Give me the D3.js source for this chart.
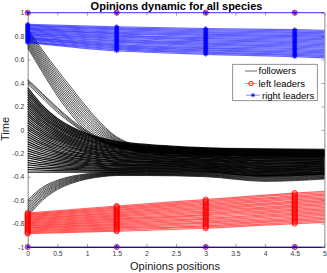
<!DOCTYPE html>
<html><head><meta charset="utf-8">
<script src="https://cdn.jsdelivr.net/npm/d3@7"></script>
<style>html,body{margin:0;padding:0;background:#fff;}svg{display:block;font-family:"Liberation Sans",Arial,sans-serif;}</style>
</head><body>
<svg id="chart" width="327" height="273"></svg>
<script>
// ---------- data ----------
const xTicks = [0, 0.5, 1, 1.5, 2, 2.5, 3, 3.5, 4, 4.5, 5];
const xTickLabels = ["0","0.5","1","1.5","2","2.5","3","3.5","4","4.5","5"];
const yTicks = [-1, -0.8, -0.6, -0.4, -0.2, 0, 0.2, 0.4, 0.6, 0.8, 1];
const yTickLabels = ["-1","-0.8","-0.6","-0.4","-0.2","0","0.2","0.4","0.6","0.8","1"];

// followers: positions sampled at followerX
const followerX = [0, 0.25, 0.5, 0.75, 1, 1.25, 1.5, 2, 3, 4, 5];
const followersUpper = [
 [0.700,0.490,0.290,0.120,-0.020,-0.100,-0.150,-0.190,-0.210,-0.220,-0.220],
 [0.715,0.507,0.310,0.141,-0.001,-0.086,-0.142,-0.185,-0.205,-0.215,-0.215],
 [0.729,0.525,0.330,0.162,0.018,-0.073,-0.134,-0.181,-0.200,-0.209,-0.210],
 [0.744,0.542,0.350,0.183,0.037,-0.059,-0.125,-0.176,-0.195,-0.204,-0.205],
 [0.758,0.559,0.370,0.204,0.056,-0.045,-0.117,-0.172,-0.190,-0.198,-0.200],
 [0.773,0.576,0.390,0.225,0.076,-0.032,-0.109,-0.167,-0.185,-0.193,-0.195],
 [0.787,0.594,0.410,0.245,0.094,-0.018,-0.101,-0.163,-0.180,-0.187,-0.190],
 [0.802,0.611,0.430,0.266,0.114,-0.005,-0.093,-0.158,-0.175,-0.182,-0.185],
 [0.816,0.628,0.450,0.287,0.133,0.009,-0.085,-0.154,-0.170,-0.176,-0.180],
 [0.831,0.645,0.470,0.308,0.152,0.023,-0.076,-0.149,-0.165,-0.171,-0.175],
 [0.845,0.663,0.490,0.329,0.171,0.036,-0.068,-0.145,-0.160,-0.165,-0.170],
 [0.860,0.680,0.510,0.350,0.190,0.050,-0.060,-0.140,-0.155,-0.160,-0.165]
];
const followersMiddle = [
 [0.430,0.310,0.190,0.080,-0.010,-0.080,-0.130,-0.180,-0.200,-0.210,-0.210],
 [0.420,0.300,0.180,0.070,-0.020,-0.090,-0.135,-0.185,-0.205,-0.215,-0.215],
 [0.405,0.285,0.165,0.060,-0.030,-0.095,-0.140,-0.190,-0.210,-0.220,-0.220],
 [0.390,0.270,0.150,0.050,-0.035,-0.100,-0.145,-0.195,-0.215,-0.225,-0.225]
];
const followersMain = [
 [0.36,0.206,0.097,0.021,-0.033,-0.071,-0.098,-0.124,-0.154,-0.168,-0.173],
 [0.34,0.190,0.084,0.010,-0.043,-0.080,-0.106,-0.131,-0.160,-0.175,-0.178],
 [0.32,0.175,0.072,0.000,-0.051,-0.087,-0.113,-0.137,-0.166,-0.181,-0.184],
 [0.30,0.159,0.059,-0.011,-0.061,-0.096,-0.121,-0.144,-0.172,-0.187,-0.190],
 [0.28,0.143,0.047,-0.022,-0.069,-0.103,-0.127,-0.150,-0.177,-0.194,-0.196],
 [0.26,0.127,0.034,-0.032,-0.079,-0.112,-0.135,-0.157,-0.183,-0.200,-0.201],
 [0.24,0.112,0.021,-0.043,-0.088,-0.119,-0.142,-0.162,-0.188,-0.206,-0.207],
 [0.22,0.096,0.008,-0.054,-0.097,-0.128,-0.150,-0.169,-0.195,-0.213,-0.213],
 [0.20,0.080,-0.005,-0.065,-0.106,-0.136,-0.157,-0.176,-0.201,-0.219,-0.219],
 [0.18,0.064,-0.017,-0.075,-0.115,-0.144,-0.164,-0.182,-0.206,-0.225,-0.224],
 [0.16,0.048,-0.030,-0.086,-0.125,-0.152,-0.172,-0.189,-0.212,-0.231,-0.230],
 [0.14,0.033,-0.043,-0.096,-0.133,-0.160,-0.179,-0.195,-0.218,-0.238,-0.236],
 [0.12,0.017,-0.056,-0.107,-0.143,-0.168,-0.186,-0.202,-0.224,-0.244,-0.242],
 [0.10,0.001,-0.068,-0.117,-0.152,-0.176,-0.193,-0.208,-0.229,-0.250,-0.247],
 [0.08,-0.014,-0.081,-0.128,-0.161,-0.184,-0.201,-0.214,-0.235,-0.257,-0.253],
 [0.06,-0.030,-0.093,-0.138,-0.170,-0.192,-0.208,-0.220,-0.240,-0.263,-0.259],
 [0.04,-0.046,-0.106,-0.149,-0.179,-0.200,-0.215,-0.227,-0.247,-0.269,-0.265],
 [0.02,-0.061,-0.119,-0.159,-0.188,-0.208,-0.222,-0.233,-0.252,-0.276,-0.270],
 [0.00,-0.077,-0.132,-0.170,-0.197,-0.216,-0.230,-0.240,-0.258,-0.282,-0.276],
 [-0.02,-0.093,-0.144,-0.181,-0.206,-0.224,-0.237,-0.246,-0.263,-0.288,-0.282],
 [-0.04,-0.109,-0.157,-0.191,-0.215,-0.232,-0.245,-0.253,-0.270,-0.294,-0.287],
 [-0.06,-0.124,-0.170,-0.202,-0.224,-0.240,-0.251,-0.259,-0.275,-0.301,-0.293],
 [-0.08,-0.140,-0.183,-0.213,-0.234,-0.249,-0.259,-0.266,-0.281,-0.307,-0.299],
 [-0.10,-0.156,-0.195,-0.223,-0.242,-0.256,-0.266,-0.271,-0.286,-0.313,-0.305],
 [-0.12,-0.172,-0.208,-0.234,-0.252,-0.265,-0.274,-0.278,-0.292,-0.320,-0.310],
 [-0.14,-0.187,-0.220,-0.244,-0.260,-0.272,-0.280,-0.284,-0.298,-0.326,-0.316],
 [-0.16,-0.203,-0.233,-0.255,-0.270,-0.281,-0.288,-0.291,-0.304,-0.332,-0.322],
 [-0.18,-0.219,-0.246,-0.265,-0.279,-0.288,-0.295,-0.297,-0.309,-0.339,-0.328],
 [-0.20,-0.235,-0.259,-0.276,-0.288,-0.297,-0.303,-0.304,-0.315,-0.345,-0.333],
 [-0.22,-0.250,-0.271,-0.286,-0.297,-0.304,-0.310,-0.310,-0.320,-0.351,-0.339],
 [-0.24,-0.266,-0.284,-0.297,-0.306,-0.313,-0.317,-0.317,-0.327,-0.357,-0.345],
 [-0.26,-0.282,-0.297,-0.307,-0.315,-0.320,-0.324,-0.323,-0.332,-0.364,-0.351],
 [-0.28,-0.297,-0.310,-0.318,-0.324,-0.329,-0.332,-0.329,-0.338,-0.370,-0.356],
 [-0.30,-0.313,-0.322,-0.329,-0.333,-0.336,-0.339,-0.335,-0.343,-0.376,-0.362],
 [-0.32,-0.329,-0.335,-0.339,-0.343,-0.345,-0.346,-0.342,-0.350,-0.383,-0.368],
 [-0.34,-0.344,-0.348,-0.350,-0.351,-0.352,-0.353,-0.348,-0.355,-0.389,-0.374],
 [-0.36,-0.360,-0.360,-0.360,-0.360,-0.360,-0.360,-0.355,-0.361,-0.395,-0.379]
];
const followersLower = [
 [-0.600,-0.490,-0.430,-0.395,-0.375,-0.365,-0.360,-0.360,-0.365,-0.390,-0.375],
 [-0.616,-0.502,-0.439,-0.402,-0.380,-0.369,-0.363,-0.363,-0.369,-0.396,-0.380],
 [-0.631,-0.514,-0.448,-0.408,-0.385,-0.373,-0.367,-0.367,-0.373,-0.401,-0.385],
 [-0.647,-0.527,-0.457,-0.415,-0.390,-0.377,-0.370,-0.370,-0.377,-0.407,-0.390],
 [-0.662,-0.539,-0.466,-0.422,-0.395,-0.381,-0.373,-0.373,-0.381,-0.412,-0.395],
 [-0.678,-0.551,-0.474,-0.428,-0.400,-0.384,-0.377,-0.377,-0.384,-0.418,-0.400],
 [-0.693,-0.563,-0.483,-0.435,-0.405,-0.388,-0.380,-0.380,-0.388,-0.423,-0.405],
 [-0.709,-0.576,-0.492,-0.442,-0.410,-0.392,-0.383,-0.383,-0.392,-0.429,-0.410],
 [-0.724,-0.588,-0.501,-0.448,-0.415,-0.396,-0.387,-0.387,-0.396,-0.434,-0.415],
 [-0.740,-0.600,-0.510,-0.455,-0.420,-0.400,-0.390,-0.390,-0.400,-0.440,-0.420]
];

// leaders: positions sampled at leaderX (markers on the first four)
const leaderX = [0, 1.5, 3, 4.5, 5];
const leftLeaders = [
 [-0.710,-0.650,-0.595,-0.540,-0.525],
 [-0.718,-0.659,-0.606,-0.551,-0.537],
 [-0.725,-0.669,-0.616,-0.563,-0.548],
 [-0.733,-0.678,-0.627,-0.574,-0.560],
 [-0.740,-0.687,-0.638,-0.585,-0.571],
 [-0.748,-0.697,-0.648,-0.596,-0.583],
 [-0.756,-0.706,-0.659,-0.608,-0.594],
 [-0.763,-0.715,-0.670,-0.619,-0.606],
 [-0.771,-0.725,-0.680,-0.630,-0.617],
 [-0.778,-0.734,-0.691,-0.642,-0.629],
 [-0.786,-0.743,-0.702,-0.653,-0.640],
 [-0.794,-0.753,-0.712,-0.664,-0.652],
 [-0.801,-0.762,-0.723,-0.676,-0.663],
 [-0.809,-0.771,-0.733,-0.687,-0.675],
 [-0.817,-0.781,-0.744,-0.698,-0.686],
 [-0.824,-0.790,-0.755,-0.710,-0.698],
 [-0.832,-0.800,-0.765,-0.721,-0.709],
 [-0.839,-0.809,-0.776,-0.732,-0.721],
 [-0.847,-0.818,-0.787,-0.744,-0.732],
 [-0.855,-0.828,-0.797,-0.755,-0.744],
 [-0.862,-0.837,-0.808,-0.766,-0.755],
 [-0.870,-0.846,-0.819,-0.777,-0.767],
 [-0.877,-0.856,-0.829,-0.789,-0.778],
 [-0.885,-0.865,-0.840,-0.800,-0.790]
];
const rightLeaders = [
 [0.900,0.880,0.865,0.855,0.850],
 [0.893,0.871,0.855,0.845,0.840],
 [0.887,0.862,0.846,0.835,0.830],
 [0.880,0.853,0.836,0.825,0.819],
 [0.873,0.844,0.827,0.815,0.809],
 [0.866,0.835,0.817,0.805,0.799],
 [0.860,0.826,0.808,0.795,0.789],
 [0.853,0.818,0.798,0.785,0.779],
 [0.846,0.809,0.788,0.775,0.768],
 [0.839,0.800,0.779,0.765,0.758],
 [0.833,0.791,0.769,0.755,0.748],
 [0.826,0.782,0.760,0.745,0.738],
 [0.819,0.773,0.750,0.735,0.727],
 [0.812,0.764,0.741,0.725,0.717],
 [0.806,0.755,0.731,0.715,0.707],
 [0.799,0.746,0.722,0.705,0.697],
 [0.792,0.737,0.712,0.695,0.686],
 [0.785,0.728,0.702,0.685,0.676],
 [0.779,0.719,0.693,0.675,0.666],
 [0.772,0.710,0.683,0.665,0.656],
 [0.765,0.702,0.674,0.655,0.646],
 [0.758,0.693,0.664,0.645,0.635],
 [0.752,0.684,0.655,0.635,0.625],
 [0.745,0.675,0.645,0.625,0.615]
];
// boundary opinions (both leader kinds sit at the extremes too)
const boundaryLeaders = [
 [1,1,1,1,1],
 [-1,-1,-1,-1,-1]
];
const legendLabels = ["followers", "left leaders", "right leaders"];

// ---------- drawing ----------
const svg = d3.select("#chart");
const L = 27.7, R = 324.4, T = 12.7, B = 247;
const x = d3.scaleLinear().domain([0, 5]).range([L, R]);
const y = d3.scaleLinear().domain([-1, 1]).range([B, T]);

const axisColor = "#8a8a8a";
const tickFont = 6.8;

function styleAxis(g, domainColor) {
  g.selectAll(".domain").attr("stroke", domainColor || axisColor).attr("stroke-width", 1);
  g.selectAll(".tick line").attr("stroke", axisColor).attr("stroke-width", 0.8);
  g.selectAll(".tick text").attr("fill", "#3a3a3a").attr("font-size", tickFont)
    .attr("font-family", "Liberation Sans, Arial, sans-serif");
}

svg.append("g").attr("transform", `translate(0,${B})`)
  .call(d3.axisBottom(x).tickValues(xTicks).tickFormat((d,i)=>xTickLabels[i]).tickSizeInner(-3).tickSizeOuter(0).tickPadding(4.3))
  .call(g => styleAxis(g, "#202020"));
svg.append("g").attr("transform", `translate(0,${T})`)
  .call(d3.axisTop(x).tickValues(xTicks).tickFormat("").tickSizeInner(-3).tickSizeOuter(0))
  .call(g => styleAxis(g, "none"));
svg.append("g").attr("transform", `translate(${L},0)`)
  .call(d3.axisLeft(y).tickValues(yTicks).tickFormat((d,i)=>yTickLabels[i]).tickSizeInner(-3).tickSizeOuter(0).tickPadding(3.4))
  .call(g => styleAxis(g));
svg.append("g").attr("transform", `translate(${R},0)`)
  .call(d3.axisRight(y).tickValues(yTicks).tickFormat("").tickSizeInner(-3).tickSizeOuter(0))
  .call(g => styleAxis(g));

const fLine = d3.line().x((d,i)=>x(followerX[i])).y(d=>y(d)).curve(d3.curveMonotoneX);
const lLine = d3.line().x((d,i)=>x(leaderX[i])).y(d=>y(d)).curve(d3.curveMonotoneX);

function drawFollowers(rows, lw) {
  svg.append("g").selectAll("path").data(rows).join("path")
    .attr("d", fLine).attr("fill", "none").attr("stroke", "#000")
    .attr("stroke-width", lw).attr("stroke-opacity", 0.9);
}
drawFollowers(followersMain, 1.25);
drawFollowers(followersUpper, 0.75);
drawFollowers(followersMiddle, 0.75);
drawFollowers(followersLower, 0.75);

const starPath = r => `M${-r},0L${r},0M0,${-r}L0,${r}M${-0.7*r},${-0.7*r}L${0.7*r},${0.7*r}M${-0.7*r},${0.7*r}L${0.7*r},${-0.7*r}`;

function drawLeaders(rows, color, marker, lw, op) {
  const g = svg.append("g");
  g.selectAll("path.ln").data(rows).join("path").attr("class","ln")
    .attr("d", lLine).attr("fill", "none").attr("stroke", color)
    .attr("stroke-width", lw).attr("stroke-opacity", op);
  const pts = [];
  rows.forEach(r => r.slice(0, 4).forEach((v, i) => pts.push([leaderX[i], v])));
  if (marker === "o") {
    g.selectAll("circle").data(pts).join("circle")
      .attr("cx", d=>x(d[0])).attr("cy", d=>y(d[1])).attr("r", 2.6)
      .attr("fill", "none").attr("stroke", color).attr("stroke-width", 0.8);
  } else {
    g.selectAll("path.mk").data(pts).join("path").attr("class","mk")
      .attr("transform", d=>`translate(${x(d[0])},${y(d[1])})`)
      .attr("d", starPath(2.4)).attr("fill", "none").attr("stroke", color).attr("stroke-width", 0.8);
  }
}
drawLeaders(leftLeaders, "#ff0000", "o", 1.2, 0.6);
drawLeaders(boundaryLeaders, "#ff0000", "o", 1, 0.2);
drawLeaders(rightLeaders, "#0000ff", "*", 1.2, 0.6);
drawLeaders(boundaryLeaders, "#0000ff", "*", 1.2, 0.6);

// legend
const lg = svg.append("g");
lg.append("rect").attr("x", 232.7).attr("y", 64.3).attr("width", 84.6).attr("height", 36.4)
  .attr("fill", "#fff").attr("stroke", "#777").attr("stroke-width", 0.8);
const legY = [71, 83.5, 95.2];
lg.append("line").attr("x1", 245).attr("x2", 257).attr("y1", legY[0]).attr("y2", legY[0]).attr("stroke", "#444").attr("stroke-width", 0.8);
lg.append("line").attr("x1", 245).attr("x2", 257).attr("y1", legY[1]).attr("y2", legY[1]).attr("stroke", "#ff7070").attr("stroke-width", 0.8);
lg.append("circle").attr("cx", 251).attr("cy", legY[1]).attr("r", 2.2).attr("fill", "none").attr("stroke", "#ff0000").attr("stroke-width", 0.9);
lg.append("line").attr("x1", 246).attr("x2", 260).attr("y1", legY[2]).attr("y2", legY[2]).attr("stroke", "#7070ff").attr("stroke-width", 0.8);
lg.append("path").attr("transform", `translate(253,${legY[2]})`).attr("d", starPath(2)).attr("fill","none").attr("stroke", "#0000ff").attr("stroke-width", 0.8);
const legX = [258.5, 258.5, 262];
legendLabels.forEach((t, i) => {
  lg.append("text").attr("x", legX[i]).attr("y", legY[i] + 3.3).attr("font-size", 9.5).attr("fill", "#000").text(t);
});

// titles
svg.append("text").attr("x", 176.5).attr("y", 9.6).attr("text-anchor", "middle")
  .attr("font-size", 11).attr("font-weight", "bold").attr("fill", "#000").text("Opinions dynamic for all species");
svg.append("text").attr("x", 175).attr("y", 270.2).attr("text-anchor", "middle")
  .attr("font-size", 11).attr("fill", "#1a1a1a").text("Opinions positions");
svg.append("text").attr("transform", "translate(9.2,129) rotate(-90)").attr("text-anchor", "middle")
  .attr("font-size", 11).attr("fill", "#1a1a1a").text("Time");
</script>
</body></html>
